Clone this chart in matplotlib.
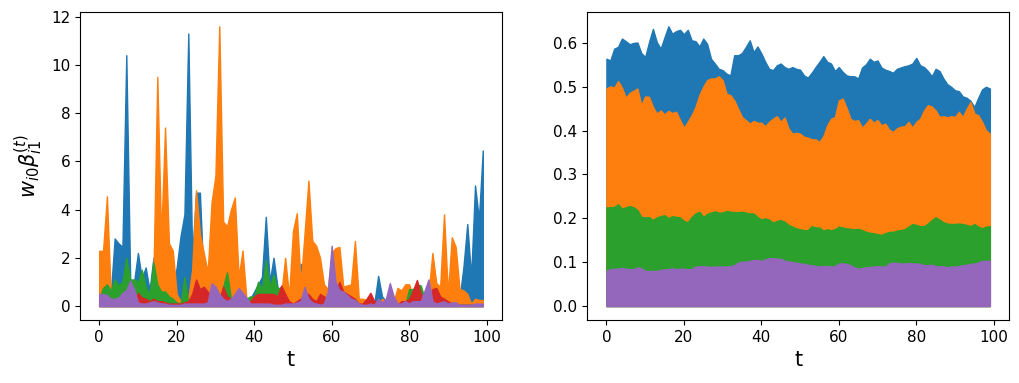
import matplotlib

matplotlib.use("Agg")
import matplotlib.pyplot as plt
import numpy as np

t = np.arange(100)

# left panel: w_i0 * beta_i1^(t), one series per component
left_blue = [
    0.2, 0.2, 0.2, 0.5, 2.8, 2.6, 2.45, 10.4, 1.1, 1.0,
    2.2, 1.15, 1.6, 0.65, 2.0, 1.0, 0.8, 0.6, 0.5, 0.8,
    1.6, 2.9, 3.8, 11.3, 2.0, 4.7, 4.7, 0.8, 0.5, 0.4,
    0.3, 0.3, 0.3, 0.3, 0.3, 0.3, 0.2, 0.2, 0.2, 0.3,
    0.6, 0.9, 1.2, 3.7, 1.0, 2.0, 0.8, 0.5, 0.3, 0.2,
    0.3, 0.5, 1.75, 0.5, 0.3, 0.2, 0.1, 0.1, 0.1, 0.1,
    0.1, 0.1, 0.1, 0.1, 0.1, 0.1, 0.1, 0.1, 0.1, 0.1,
    0.1, 0.1, 1.25, 0.4, 0.2, 0.1, 0.1, 0.1, 0.1, 0.1,
    0.1, 0.1, 0.1, 0.1, 0.1, 0.1, 0.1, 0.1, 0.1, 0.1,
    0.1, 0.1, 0.1, 0.3, 1.6, 3.4, 1.2, 5.0, 3.6, 6.45,
]
left_orange = [
    2.29, 2.29, 4.55, 0.4, 0.3, 0.3, 0.3, 0.3, 0.3, 0.4,
    0.4, 0.5, 0.4, 0.5, 1.2, 9.5, 2.8, 7.4, 2.6, 2.3,
    0.5, 0.2, 0.2, 0.3, 1.5, 4.8, 3.0, 2.2, 1.4, 4.3,
    5.4, 11.6, 3.5, 3.3, 4.0, 4.5, 1.2, 2.3, 0.3, 0.2,
    0.4, 0.3, 0.3, 0.4, 0.3, 0.3, 0.6, 0.5, 2.0, 0.4,
    3.1, 3.85, 0.9, 3.0, 5.2, 2.7, 2.5, 2.0, 0.9, 0.7,
    2.2, 2.4, 2.45, 0.8, 0.85, 0.9, 2.7, 0.3, 0.3, 0.25,
    0.1, 0.1, 0.1, 0.3, 0.2, 0.3, 0.2, 0.75, 0.65, 0.9,
    0.9, 0.4, 0.5, 0.4, 0.3, 0.5, 2.2, 0.95, 0.8, 3.8,
    0.5, 2.85, 2.45, 0.7, 0.65, 0.5, 0.1, 0.3, 0.25, 0.25,
]
left_green = [
    0.3, 0.75, 0.9, 0.65, 1.1, 0.85, 1.0, 2.0, 1.1, 1.1,
    1.0, 1.5, 0.8, 0.5, 1.8, 0.9, 0.6, 0.6, 0.4, 0.3,
    0.15, 0.1, 1.2, 0.1, 0.2, 0.2, 0.1, 0.1, 0.1, 0.1,
    0.1, 0.1, 0.8, 1.4, 0.3, 0.1, 0.1, 0.1, 0.3, 0.4,
    0.4, 1.0, 0.7, 1.9, 0.8, 1.3, 0.7, 0.8, 0.1, 0.1,
    0.1, 0.05, 0.05, 0.05, 0.05, 0.05, 0.05, 0.05, 0.05, 0.05,
    0.05, 0.05, 0.05, 0.05, 0.05, 0.05, 0.05, 0.05, 0.05, 0.05,
    0.05, 0.05, 0.05, 0.05, 0.05, 0.05, 0.05, 0.05, 0.05, 0.05,
    0.7, 0.7, 0.9, 0.85, 0.3, 0.05, 0.05, 0.05, 0.05, 0.05,
    0.05, 0.05, 0.05, 0.05, 0.05, 0.05, 0.05, 0.05, 0.05, 0.05,
]
left_red = [
    0.05, 0.05, 0.05, 0.05, 0.05, 0.05, 0.05, 0.05, 0.05, 0.05,
    0.55, 0.35, 0.3, 0.2, 0.3, 0.2, 0.2, 0.15, 0.1, 0.1,
    0.1, 0.1, 0.15, 0.2, 0.5, 1.1, 0.7, 0.8, 0.6, 0.4,
    0.3, 0.3, 0.8, 0.4, 0.3, 0.2, 0.1, 0.1, 0.1, 0.2,
    0.4, 0.5, 0.5, 0.5, 0.5, 0.5, 0.4, 0.85, 0.5, 0.2,
    0.1, 0.2, 0.3, 0.5, 0.5, 0.3, 0.2, 0.5, 0.4, 0.3,
    0.5, 0.6, 1.0, 0.6, 0.5, 0.4, 0.3, 0.1, 0.1, 0.3,
    0.55, 0.2, 0.2, 0.1, 0.2, 0.3, 0.1, 0.05, 0.2, 0.2,
    0.3, 0.65, 1.08, 0.5, 0.3, 0.4, 0.7, 0.75, 0.4, 0.3,
    0.2, 0.1, 0.1, 0.05, 0.05, 0.05, 0.05, 0.05, 0.05, 0.05,
]
left_purple = [
    0.5, 0.5, 0.45, 0.3, 0.3, 0.35, 0.55, 0.65, 1.05, 0.7,
    0.15, 0.1, 0.1, 0.15, 0.2, 0.15, 0.1, 0.1, 0.05, 0.05,
    0.05, 0.05, 0.1, 0.1, 0.1, 0.1, 0.1, 0.1, 0.15, 0.95,
    0.8, 0.5, 0.3, 0.2, 0.3, 0.5, 0.75, 0.55, 0.35, 0.1,
    0.1, 0.1, 0.1, 0.1, 0.1, 0.05, 0.05, 0.05, 0.1, 0.1,
    0.1, 0.15, 0.2, 0.8, 0.3, 0.15, 0.1, 0.05, 0.1, 0.6,
    2.5, 1.0, 0.65, 0.6, 0.45, 0.3, 0.25, 0.1, 0.05, 0.05,
    0.1, 0.05, 0.3, 0.15, 0.3, 0.95, 0.4, 0.1, 0.1, 0.2,
    0.1, 0.2, 0.2, 0.2, 0.65, 1.1, 0.2, 0.1, 0.15, 0.2,
    0.1, 0.15, 0.15, 0.05, 0.05, 0.05, 0.05, 0.1, 0.1, 0.1,
]

# right panel
right_blue = [
    0.564, 0.560, 0.587, 0.591, 0.610, 0.604, 0.597, 0.600, 0.601, 0.577,
    0.568, 0.602, 0.632, 0.602, 0.587, 0.613, 0.638, 0.621, 0.627, 0.630,
    0.620, 0.630, 0.606, 0.604, 0.592, 0.610, 0.598, 0.564, 0.553, 0.541,
    0.538, 0.530, 0.526, 0.572, 0.572, 0.577, 0.591, 0.606, 0.579, 0.592,
    0.576, 0.557, 0.541, 0.538, 0.549, 0.553, 0.545, 0.541, 0.545, 0.541,
    0.539, 0.526, 0.521, 0.532, 0.545, 0.557, 0.570, 0.557, 0.553, 0.536,
    0.545, 0.534, 0.526, 0.524, 0.524, 0.519, 0.544, 0.551, 0.564, 0.557,
    0.560, 0.544, 0.539, 0.536, 0.532, 0.541, 0.544, 0.547, 0.549, 0.553,
    0.566, 0.549, 0.545, 0.536, 0.524, 0.541, 0.536, 0.519, 0.506, 0.500,
    0.492, 0.490, 0.478, 0.475, 0.468, 0.454, 0.475, 0.494, 0.500, 0.496,
]
right_orange = [
    0.496, 0.501, 0.498, 0.513, 0.498, 0.475, 0.486, 0.491, 0.496, 0.458,
    0.478, 0.477, 0.454, 0.439, 0.446, 0.437, 0.445, 0.440, 0.443, 0.424,
    0.407, 0.420, 0.435, 0.454, 0.481, 0.500, 0.515, 0.519, 0.519, 0.524,
    0.515, 0.484, 0.481, 0.469, 0.450, 0.431, 0.424, 0.416, 0.422, 0.418,
    0.418, 0.410, 0.420, 0.427, 0.433, 0.420, 0.430, 0.405, 0.393, 0.395,
    0.393, 0.386, 0.384, 0.380, 0.380, 0.374, 0.387, 0.412, 0.427, 0.431,
    0.469, 0.473, 0.452, 0.427, 0.422, 0.424, 0.407, 0.416, 0.427, 0.418,
    0.424, 0.412, 0.416, 0.402, 0.397, 0.405, 0.409, 0.410, 0.420, 0.407,
    0.420, 0.427, 0.446, 0.458, 0.455, 0.446, 0.431, 0.433, 0.430, 0.433,
    0.431, 0.443, 0.431, 0.450, 0.465, 0.439, 0.435, 0.420, 0.401, 0.393,
]
right_green = [
    0.225, 0.225, 0.226, 0.232, 0.222, 0.225, 0.228, 0.225, 0.219, 0.203,
    0.202, 0.203, 0.196, 0.202, 0.205, 0.207, 0.200, 0.205, 0.203, 0.202,
    0.194, 0.191, 0.203, 0.211, 0.215, 0.203, 0.210, 0.213, 0.216, 0.213,
    0.213, 0.217, 0.215, 0.214, 0.214, 0.215, 0.213, 0.211, 0.211, 0.203,
    0.197, 0.200, 0.197, 0.190, 0.194, 0.196, 0.192, 0.185, 0.181, 0.177,
    0.175, 0.173, 0.173, 0.182, 0.179, 0.179, 0.172, 0.175, 0.173, 0.175,
    0.181, 0.179, 0.177, 0.176, 0.175, 0.176, 0.173, 0.169, 0.167, 0.166,
    0.164, 0.162, 0.166, 0.169, 0.169, 0.172, 0.173, 0.175, 0.181, 0.187,
    0.185, 0.182, 0.182, 0.188, 0.196, 0.202, 0.197, 0.191, 0.188, 0.187,
    0.187, 0.188, 0.187, 0.185, 0.182, 0.187, 0.181, 0.177, 0.181, 0.182,
]
right_purple = [
    0.080, 0.084, 0.085, 0.085, 0.087, 0.085, 0.084, 0.084, 0.088, 0.086,
    0.080, 0.080, 0.080, 0.080, 0.082, 0.084, 0.084, 0.086, 0.084, 0.085,
    0.085, 0.084, 0.084, 0.090, 0.090, 0.091, 0.090, 0.089, 0.090, 0.090,
    0.090, 0.090, 0.091, 0.093, 0.099, 0.101, 0.101, 0.103, 0.105, 0.105,
    0.103, 0.106, 0.109, 0.109, 0.108, 0.108, 0.103, 0.102, 0.100, 0.099,
    0.097, 0.096, 0.094, 0.093, 0.091, 0.090, 0.091, 0.091, 0.090, 0.091,
    0.097, 0.097, 0.096, 0.093, 0.088, 0.085, 0.087, 0.088, 0.089, 0.090,
    0.091, 0.090, 0.090, 0.097, 0.099, 0.098, 0.097, 0.097, 0.098, 0.097,
    0.097, 0.096, 0.093, 0.093, 0.094, 0.091, 0.090, 0.091, 0.088, 0.090,
    0.090, 0.091, 0.093, 0.094, 0.096, 0.097, 0.099, 0.103, 0.103, 0.103,
]

left_series = [
    (left_blue, "C0"),
    (left_orange, "C1"),
    (left_green, "C2"),
    (left_red, "C3"),
    (left_purple, "C4"),
]
right_series = [
    (right_blue, "C0"),
    (right_orange, "C1"),
    (right_green, "C2"),
    (right_purple, "C4"),
]

plt.rcParams["font.size"] = 11

fig = plt.figure(figsize=(10.19, 3.83), dpi=100)
ax_left = fig.add_axes([0.0785, 0.1645, 0.4141, 0.8034])
ax_right = fig.add_axes([0.5763, 0.1645, 0.4139, 0.8034])

for values, color in left_series:
    ax_left.fill_between(t, 0, values, color=color)
for values, color in right_series:
    ax_right.fill_between(t, 0, values, color=color)

ax_left.set_xlabel("t", fontsize=15)
ax_left.set_ylabel(r"$w_{i0}\beta_{i1}^{(t)}$", fontsize=15)
ax_right.set_xlabel("t", fontsize=15)

for ax in (ax_left, ax_right):
    ax.tick_params(labelsize=11)

fig.savefig("out.png", dpi=100)
